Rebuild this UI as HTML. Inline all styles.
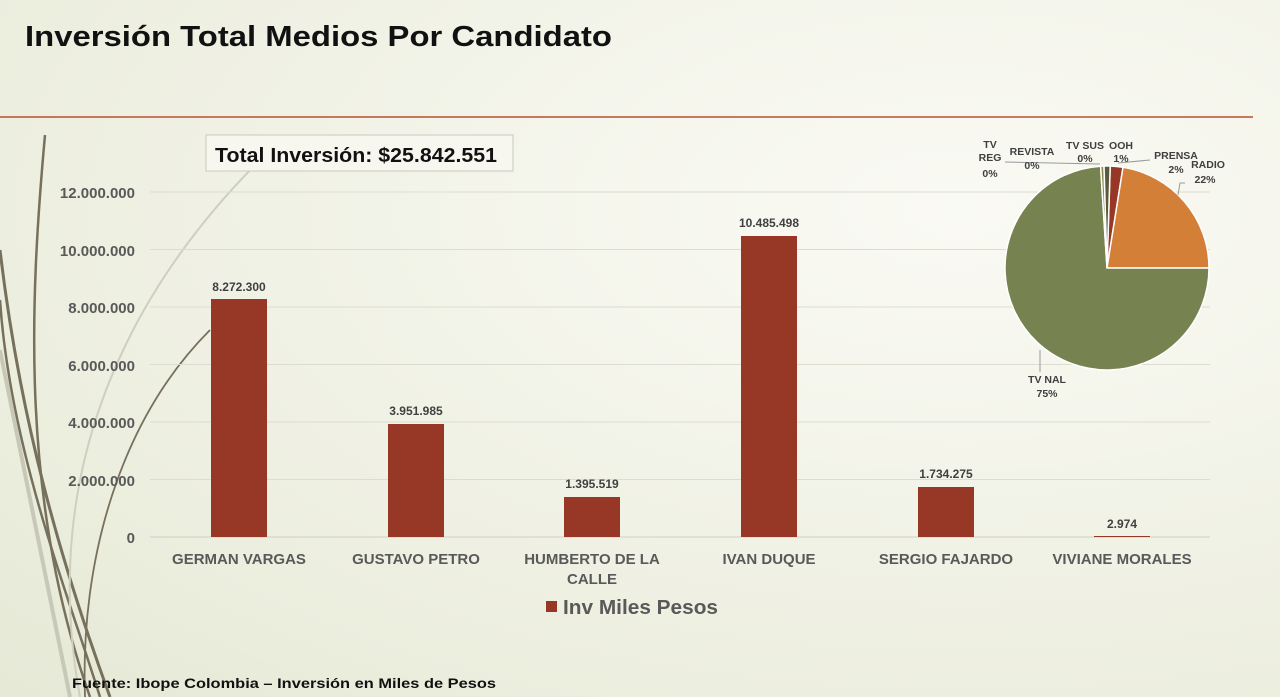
<!DOCTYPE html><html><head><meta charset="utf-8"><style>
body{margin:0;width:1280px;height:697px;overflow:hidden;background:radial-gradient(ellipse at 75% 30%,#fafaf4 0%,#f1f2e6 50%,#e6e9d6 100%);font-family:"Liberation Sans",sans-serif;}
</style></head><body>
<svg width="1280" height="697" xmlns="http://www.w3.org/2000/svg" style="position:absolute;left:0;top:0">
<g fill="none" stroke="#77705c">
<path d="M45,135 C30,300 20,500 90,697" stroke-width="2.5"/>
<path d="M0,250 C20,420 60,560 110,697" stroke-width="3"/>
<path d="M0,300 C10,450 70,600 100,697" stroke-width="2.5"/>
<path d="M260,160 C120,300 40,480 80,697" stroke="#cfcfc0" stroke-width="2"/>
<path d="M0,350 C30,500 50,600 70,697" stroke="#c8c8b8" stroke-width="4"/>
<path d="M210,330 C120,420 80,560 85,697" stroke-width="1.8"/>
</g>
<text x="25" y="46" font-size="29" font-weight="bold" fill="#111" textLength="587" lengthAdjust="spacingAndGlyphs">Inversión Total Medios Por Candidato</text>
<line x1="0" y1="117" x2="1253" y2="117" stroke="#b5502f" stroke-width="1.5"/>
<g stroke="#dcdcd0" stroke-width="1">
<line x1="150" y1="192" x2="1210" y2="192"/><line x1="150" y1="249.5" x2="1210" y2="249.5"/><line x1="150" y1="307" x2="1210" y2="307"/><line x1="150" y1="364.5" x2="1210" y2="364.5"/><line x1="150" y1="422" x2="1210" y2="422"/><line x1="150" y1="479.5" x2="1210" y2="479.5"/></g>
<line x1="150" y1="537" x2="1210" y2="537" stroke="#cfcfc3"/>
<g font-size="15" font-weight="bold" fill="#595959" text-anchor="end">
<text x="135" y="198">12.000.000</text><text x="135" y="256">10.000.000</text><text x="135" y="313">8.000.000</text><text x="135" y="371">6.000.000</text><text x="135" y="428">4.000.000</text><text x="135" y="486">2.000.000</text><text x="135" y="543">0</text></g>
<g fill="#973726">
<rect x="211" y="299" width="56" height="238"/><rect x="388" y="424" width="56" height="113"/><rect x="564" y="497" width="56" height="40"/><rect x="741" y="236" width="56" height="301"/><rect x="918" y="487" width="56" height="50"/><rect x="1094" y="536" width="56" height="1"/></g>
<g font-size="12" font-weight="bold" fill="#404040" text-anchor="middle">
<text x="239" y="291">8.272.300</text><text x="416" y="415">3.951.985</text><text x="592" y="488">1.395.519</text><text x="769" y="227">10.485.498</text><text x="946" y="478">1.734.275</text><text x="1122" y="528">2.974</text></g>
<g font-size="15" font-weight="bold" fill="#595959" text-anchor="middle">
<text x="239" y="564">GERMAN VARGAS</text><text x="416" y="564">GUSTAVO PETRO</text><text x="592" y="564">HUMBERTO DE LA</text><text x="592" y="584">CALLE</text><text x="769" y="564">IVAN DUQUE</text><text x="946" y="564">SERGIO FAJARDO</text><text x="1122" y="564">VIVIANE MORALES</text></g>
<rect x="546" y="601" width="11" height="11" fill="#973726"/>
<text x="563" y="614" font-size="20" font-weight="bold" fill="#595959" textLength="155" lengthAdjust="spacingAndGlyphs">Inv Miles Pesos</text>
<rect x="206" y="135" width="307" height="36" fill="#f7f7f0" stroke="#c8c8c0"/>
<text x="215" y="162" font-size="20" font-weight="bold" fill="#111" textLength="282" lengthAdjust="spacingAndGlyphs">Total Inversión: $25.842.551</text>
<g stroke="#fff" stroke-width="1.5">
<path d="M1107,268 L1110.2,166 A102,102 0 0,1 1123,167.3Z" fill="#973726"/>
<path d="M1107,268 L1123,167.3 A102,102 0 0,1 1209,268Z" fill="#d37f37"/>
<path d="M1107,268 L1209,268 A102,102 0 1,1 1100.6,166.2Z" fill="#768250"/>
<path d="M1107,268 L1100.6,166.2 A102,102 0 0,1 1104,166Z" fill="#8a8a50"/>
<path d="M1107,268 L1104,166 A102,102 0 0,1 1110.2,166Z" fill="#5a5a3a"/>
</g>
<g stroke="#999" fill="none" stroke-width="1"><polyline points="1005,162 1100,164"/><polyline points="1118,163 1150,160"/><polyline points="1185,183 1180,183 1178,195"/><polyline points="1040,372 1040,350"/></g>
<g font-size="10.5" font-weight="bold" fill="#404040" text-anchor="middle">
<text x="990" y="148">TV</text><text x="990" y="161">REG</text><text x="990" y="177">0%</text>
<text x="1032" y="155">REVISTA</text><text x="1032" y="169">0%</text>
<text x="1085" y="149">TV SUS</text><text x="1085" y="162">0%</text>
<text x="1121" y="149">OOH</text><text x="1121" y="162">1%</text>
<text x="1176" y="159">PRENSA</text><text x="1176" y="173">2%</text>
<text x="1208" y="168">RADIO</text><text x="1205" y="183">22%</text>
<text x="1047" y="383">TV NAL</text><text x="1047" y="397">75%</text></g>
<text x="72" y="688" font-size="14" font-weight="bold" fill="#111" textLength="424" lengthAdjust="spacingAndGlyphs">Fuente: Ibope Colombia – Inversión en Miles de Pesos</text>
</svg></body></html>
